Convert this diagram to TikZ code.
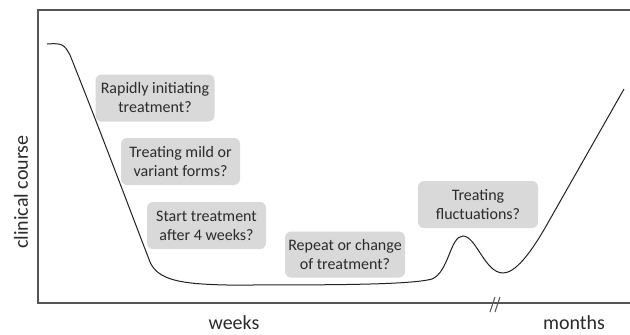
\documentclass[tikz,border=0pt]{standalone}
\usepackage{fontspec}
\setmainfont{Carlito}
\begin{document}
\begin{tikzpicture}[x=1pt,y=-1pt,
  qbox/.style={fill=boxgray, rounded corners=6pt, minimum width=119pt, minimum height=47pt,
    inner sep=0pt, align=center, text=txt, font=\fontsize{16}{19}\selectfont},
  axlab/.style={text=txt, font=\fontsize{20}{22}\selectfont, inner sep=0pt},
  frame/.style={draw=framecol, line width=1.1pt},
  curve/.style={draw=curvecol, line width=1pt}]
\definecolor{boxgray}{HTML}{D9D9D9}
\definecolor{txt}{HTML}{2B2B2B}
\definecolor{framecol}{HTML}{555555}
\definecolor{curvecol}{HTML}{222222}
\useasboundingbox (0,0) rectangle (630,335);
\fill[white] (0,0) rectangle (630,335);
% frame
\coordinate (tr) at (631,10);
\coordinate (tl) at (38,10);
\coordinate (bl) at (38,303);
\coordinate (br) at (631,303);
\draw[frame] (tr) -- (tl) -- (bl) -- (br);
% axis break
\coordinate (s1a) at (490,312); \coordinate (s1b) at (495,297);
\coordinate (s2a) at (495,312); \coordinate (s2b) at (500,297);
\draw[frame, line width=1pt] (s1a) -- (s1b) (s2a) -- (s2b);
% boxes
\node[qbox] (b1) at (155,98) {Rapidly initiating\\treatment?};
\node[qbox] (b2) at (180.5,161.5) {Treating mild or\\variant forms?};
\node[qbox] (b3) at (206.5,225.5) {Start treatment\\after 4 weeks?};
\node[qbox, minimum width=120pt, minimum height=46pt] (b4) at (345,254.5) {Repeat or change\\of treatment?};
\node[qbox, minimum width=120pt] (b5) at (478,204.5) {Treating\\fluctuations?};
% curve
\coordinate (c0) at (47,44);
\coordinate (c1) at (70,55);
\coordinate (c2) at (150,262);
\coordinate (c3) at (227,285);
\coordinate (c4) at (432,279);
\coordinate (c5) at (463,236);
\coordinate (c6) at (503,273);
\coordinate (c7) at (545,228);
\coordinate (c8) at (624,89);
\draw[curve] (c0) .. controls (62,43) and (64,44) .. (c1)
  .. controls (100,130) and (130,210) .. (c2)
  .. controls (158,280) and (180,284) .. (c3)
  .. controls (330,285) and (410,285) .. (c4)
  .. controls (449,272) and (450,236) .. (c5)
  .. controls (476,236) and (485,273) .. (c6)
  .. controls (515,273) and (530,254) .. (c7) -- (c8);
% labels
\node[axlab, rotate=90] (yl) at (21,192) {clinical course};
\node[axlab] (xw) at (234,323) {weeks};
\node[axlab] (xm) at (574,323) {months};
\end{tikzpicture}
\end{document}
